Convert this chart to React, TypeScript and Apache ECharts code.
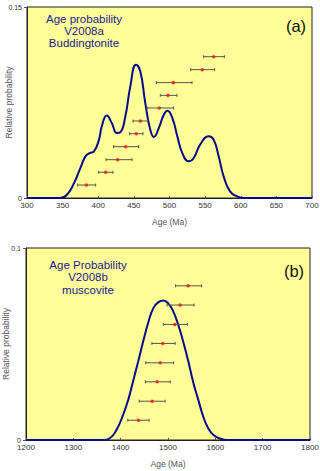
import React, { useEffect, useRef } from "react";
import * as echarts from "echarts";

// Panel (a) — V2008a Buddingtonite
const curveAAge = [300, 340, 347, 356, 365, 375, 382, 388, 394, 401, 405, 412, 419, 426, 431, 438, 445, 453, 459, 466, 473, 478, 485, 492, 497, 504, 511, 518, 527, 534, 543, 555, 562, 569, 576, 585, 595, 604, 700];
const curveAProb = [0, 0, 0, 0.0026, 0.0105, 0.0236, 0.0327, 0.0353, 0.0366, 0.0458, 0.0563, 0.0647, 0.0589, 0.051, 0.0516, 0.064, 0.0877, 0.1047, 0.0995, 0.0746, 0.0537, 0.0479, 0.055, 0.0654, 0.0686, 0.0628, 0.0484, 0.0353, 0.0288, 0.0314, 0.0419, 0.0484, 0.0458, 0.0327, 0.017, 0.0052, 0.0013, 0, 0];
const agesA = [383.3, 410.4, 427.3, 438.5, 453.4, 459.1, 485.7, 497.9, 505.4, 546.1, 562];
const lowA = [371.1, 400.6, 410.9, 421.6, 444.1, 448.8, 468.4, 487.1, 481.5, 529.7, 548];
const highA = [396.4, 420.7, 447.4, 456.7, 462.8, 469.4, 505.8, 510.5, 531.6, 563.4, 577];
const levelA = [0.0102, 0.0202, 0.0301, 0.0403, 0.0505, 0.0605, 0.0707, 0.0806, 0.0906, 0.1008, 0.111];

// Panel (b) — V2008b muscovite
const curveBAge = [1200, 1355, 1363, 1377, 1391, 1405, 1416, 1426, 1437, 1447.5, 1458, 1469, 1479, 1490, 1500, 1511, 1521.6, 1532, 1543, 1553, 1564, 1574.5, 1585, 1596, 1613, 1624, 1800];
const curveBProb = [0, 0, 0, 0.0009, 0.0052, 0.013, 0.0209, 0.0304, 0.0409, 0.0513, 0.0609, 0.0687, 0.0717, 0.0727, 0.0713, 0.067, 0.06, 0.0513, 0.0409, 0.0304, 0.0209, 0.0122, 0.0061, 0.0026, 0.0005, 0, 0];
const agesB = [1437.7, 1466.6, 1477, 1483.5, 1489, 1514.5, 1525.8, 1542.7];
const lowB = [1415, 1439, 1452.5, 1453, 1466, 1490, 1498, 1516];
const highB = [1460, 1494, 1504.7, 1511.7, 1515, 1541, 1555, 1571];
const levelB = [0.0103, 0.0202, 0.0303, 0.0402, 0.0503, 0.0602, 0.0703, 0.0803];

const FONT = "Liberation Sans, Arial, sans-serif";
const BLUE_TEXT = "#1c1c94";

function errorBarSeries(idx: number, low: number[], high: number[], lvl: number[]) {
  return {
    type: "custom",
    xAxisIndex: idx,
    yAxisIndex: idx,
    silent: true,
    z: 3,
    data: low.map((l, i) => [l, high[i], lvl[i]]),
    encode: { x: [0, 1], y: 2 },
    renderItem: (params: any, api: any) => {
      const p1 = api.coord([api.value(0), api.value(2)]);
      const p2 = api.coord([api.value(1), api.value(2)]);
      const st = { stroke: "#555", lineWidth: 1 };
      return {
        type: "group",
        children: [
          { type: "line", shape: { x1: p1[0], y1: p1[1], x2: p2[0], y2: p2[1] }, style: st },
          { type: "line", shape: { x1: p1[0], y1: p1[1] - 1.5, x2: p1[0], y2: p1[1] + 1.5 }, style: st },
          { type: "line", shape: { x1: p2[0], y1: p2[1] - 1.5, x2: p2[0], y2: p2[1] + 1.5 }, style: st },
        ],
      };
    },
  };
}

function xAxisCfg(idx: number, min: number, max: number, interval: number) {
  return {
    type: "value",
    gridIndex: idx,
    min,
    max,
    interval,
    name: "Age (Ma)",
    nameLocation: "middle",
    nameGap: 19,
    nameMoveOverlap: false,
    nameTextStyle: { fontSize: 8.5, color: "#555", fontFamily: FONT },
    axisLine: { show: true, lineStyle: { color: "#222", width: 1 } },
    axisTick: { show: true, inside: true, length: 2, lineStyle: { color: "#555" } },
    axisLabel: { fontSize: 8, color: "#333", margin: 3, fontFamily: FONT, formatter: (v: number) => String(v) },
    splitLine: { show: false },
  };
}

function yAxisCfg(idx: number, max: number, gap: number) {
  return {
    type: "value",
    gridIndex: idx,
    min: 0,
    max,
    interval: max,
    name: "Relative probability",
    nameLocation: "middle",
    nameRotate: 90,
    nameGap: gap,
    nameMoveOverlap: false,
    nameTextStyle: { fontSize: 8.5, color: "#555", fontFamily: FONT },
    axisLine: { show: true, lineStyle: { color: "#222", width: 1 } },
    axisTick: { show: true, length: 3, lineStyle: { color: "#555" } },
    axisLabel: { fontSize: 7, color: "#333", margin: 5, fontFamily: FONT, formatter: (v: number) => (v === 0 ? "0" : String(v)) },
    splitLine: { show: false },
  };
}

export default function App() {
  const ref = useRef<HTMLDivElement>(null);
  useEffect(() => {
    document.body.style.margin = "0";
    const chart = echarts.init(ref.current!, undefined, { renderer: "svg" });
    const gridBase = { show: true, backgroundColor: "#ffff99", borderColor: "#222", borderWidth: 1, containLabel: false, outerBoundsMode: "none" };
    const option: any = {
      animation: false,
      backgroundColor: "#ffffff",
      grid: [
        { ...gridBase, left: 27, top: 7, width: 285, height: 191 },
        { ...gridBase, left: 26, top: 248, width: 284, height: 192 },
      ],
      xAxis: [xAxisCfg(0, 300, 700, 50), xAxisCfg(1, 1200, 1800, 100)],
      yAxis: [yAxisCfg(0, 0.15, 13.5), yAxisCfg(1, 0.1, 16)],
      series: [
        {
          type: "line",
          xAxisIndex: 0,
          yAxisIndex: 0,
          data: curveAAge.map((a, i) => [a, curveAProb[i]]),
          smooth: 0.5,
          showSymbol: false,
          lineStyle: { color: "#0a0a8c", width: 2 },
          z: 2,
        },
        errorBarSeries(0, lowA, highA, levelA),
        {
          type: "scatter",
          xAxisIndex: 0,
          yAxisIndex: 0,
          data: agesA.map((a, i) => [a, levelA[i]]),
          symbolSize: 3.5,
          itemStyle: { color: "#ff1010" },
          z: 4,
        },
        {
          type: "line",
          xAxisIndex: 1,
          yAxisIndex: 1,
          data: curveBAge.map((a, i) => [a, curveBProb[i]]),
          smooth: 0.5,
          showSymbol: false,
          lineStyle: { color: "#0a0a8c", width: 2 },
          z: 2,
        },
        errorBarSeries(1, lowB, highB, levelB),
        {
          type: "scatter",
          xAxisIndex: 1,
          yAxisIndex: 1,
          data: agesB.map((a, i) => [a, levelB[i]]),
          symbolSize: 3.5,
          itemStyle: { color: "#ff1010" },
          z: 4,
        },
      ],
      graphic: [
        { type: "text", x: 84, y: 13, style: { text: "Age probability\nV2008a\nBuddingtonite", fill: BLUE_TEXT, font: `11.5px ${FONT}`, textAlign: "center", lineHeight: 11.8 } },
        { type: "text", x: 296, y: 17, style: { text: "(a)", fill: "#111", font: `16.5px ${FONT}`, textAlign: "center" } },
        { type: "text", x: 88, y: 259, style: { text: "Age Probability\nV2008b\nmuscovite", fill: BLUE_TEXT, font: `11.5px ${FONT}`, textAlign: "center", lineHeight: 12.2 } },
        { type: "text", x: 294, y: 262, style: { text: "(b)", fill: "#111", font: `16.5px ${FONT}`, textAlign: "center" } },
      ],
    };
    chart.setOption(option);
    return () => chart.dispose();
  }, []);
  return <div ref={ref} style={{ position: "absolute", left: 0, top: 0, width: 320, height: 471 }} />;
}
